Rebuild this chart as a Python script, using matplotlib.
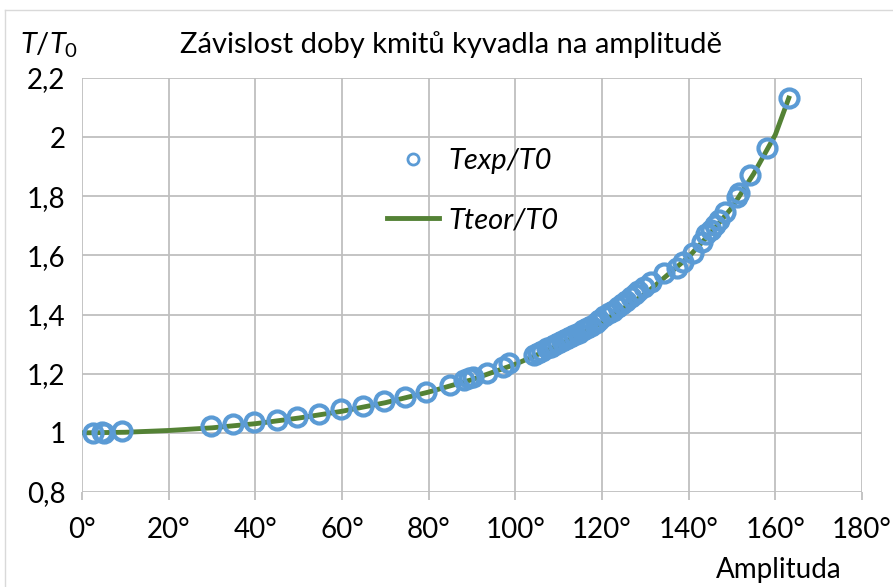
import numpy as np
import matplotlib.pyplot as plt
from matplotlib.ticker import FuncFormatter, MultipleLocator
from matplotlib.lines import Line2D

# experimental points (amplitude in degrees, T/T0)
amp_exp = [2.6, 4.6, 5.1, 9.2, 29.8, 34.9, 39.8, 44.9, 49.7, 54.6, 59.7, 64.8, 69.6,
           74.5, 79.4, 84.9, 88.2, 89.3, 90.2, 93.5, 97.2, 98.6, 104.4, 105.3, 106.2,
           107.4, 108.3, 109.0, 109.9, 110.8, 111.8, 112.7, 113.6, 114.8, 115.7, 116.6,
           117.5, 118.5, 119.4, 120.5, 121.7, 122.6, 123.8, 124.7, 125.6, 126.6, 127.5,
           128.4, 129.8, 131.4, 134.4, 137.2, 138.8, 141.1, 143.0, 144.1, 145.1, 146.0,
           146.9, 148.3, 151.1, 151.5, 154.1, 158.0, 163.1]
t_exp = [1.000, 1.002, 1.000, 1.006, 1.024, 1.031, 1.036, 1.043, 1.054, 1.065, 1.080,
         1.092, 1.109, 1.121, 1.138, 1.162, 1.180, 1.185, 1.189, 1.202, 1.223, 1.236,
         1.263, 1.270, 1.277, 1.287, 1.290, 1.297, 1.304, 1.311, 1.317, 1.324, 1.331,
         1.338, 1.348, 1.355, 1.361, 1.371, 1.382, 1.395, 1.405, 1.412, 1.426, 1.436,
         1.446, 1.459, 1.470, 1.480, 1.493, 1.510, 1.541, 1.557, 1.578, 1.608, 1.645,
         1.672, 1.686, 1.703, 1.720, 1.747, 1.798, 1.811, 1.872, 1.963, 2.132]

# theoretical curve
amp_teor = [0, 10, 20, 30, 40, 50, 60, 70, 80, 90, 100, 110, 120, 130, 140, 145,
            150, 155, 160, 163.1]
t_teor = [1.000, 1.002, 1.008, 1.017, 1.031, 1.050, 1.073, 1.102, 1.138, 1.180, 1.232,
          1.296, 1.373, 1.470, 1.595, 1.675, 1.762, 1.876, 2.008, 2.132]

plt.rcParams['font.family'] = ['Lato', 'DejaVu Sans']
plt.rcParams['mathtext.fontset'] = 'custom'
plt.rcParams['mathtext.it'] = 'Lato:italic'
plt.rcParams['mathtext.rm'] = 'Lato'

fig = plt.figure(figsize=(8.93, 5.87), dpi=100)
ax = fig.add_axes([82 / 893, 1 - 492 / 587, 780 / 893, 414 / 587])

ax.plot(amp_teor, t_teor, color='#548235', linewidth=3.5, zorder=2)
ax.plot(amp_exp, t_exp, linestyle='none', marker='o', markersize=13,
        markerfacecolor='none', markeredgecolor='#5B9BD5', markeredgewidth=3, zorder=3)

ax.set_xlim(0, 180)
ax.set_ylim(0.8, 2.2)
ax.xaxis.set_major_locator(MultipleLocator(20))
ax.yaxis.set_major_locator(MultipleLocator(0.2))
ax.xaxis.set_major_formatter(FuncFormatter(lambda v, p: f'{v:.0f}°'))
ax.yaxis.set_major_formatter(FuncFormatter(lambda v, p: f'{round(v, 1):g}'.replace('.', ',')))
ax.grid(True, color='#BFBFBF', linewidth=1.3)
ax.set_axisbelow(True)
for s in ax.spines.values():
    s.set_visible(False)
ax.tick_params(axis='x', length=6, color='#BFBFBF', width=1.3, labelsize=20, pad=12)
ax.tick_params(axis='y', length=0, labelsize=20, pad=12)

fig.text(180 / 893, 1 - 45 / 587, 'Závislost doby kmitů kyvadla na amplitudě',
         fontsize=21, va='center', ha='left')
fig.text(20 / 893, 1 - 45 / 587, r'$T/T_0$', fontsize=21, va='center', ha='left')
fig.text(842 / 893, 1 - 570 / 587, 'Amplituda', fontsize=20, va='center', ha='right')

handles = [Line2D([], [], linestyle='none', marker='o', markersize=8, markerfacecolor='none',
                  markeredgecolor='#5B9BD5', markeredgewidth=2),
           Line2D([], [], color='#548235', linewidth=3.5)]
ax.legend(handles, ['Texp/T0', 'Tteor/T0'], loc='upper left', bbox_to_anchor=(0.357, 0.895),
          frameon=False, prop={'style': 'italic', 'size': 21}, labelspacing=1.15,
          handlelength=1.8, handletextpad=0.3)

# outer chart frame
fig.add_artist(Line2D([5 / 893, 5 / 893], [0, 1 - 10 / 587], color='#D9D9D9', linewidth=1))
fig.add_artist(Line2D([5 / 893, 1], [1 - 10 / 587, 1 - 10 / 587], color='#D9D9D9', linewidth=1))

fig.savefig('out.png', dpi=100)
